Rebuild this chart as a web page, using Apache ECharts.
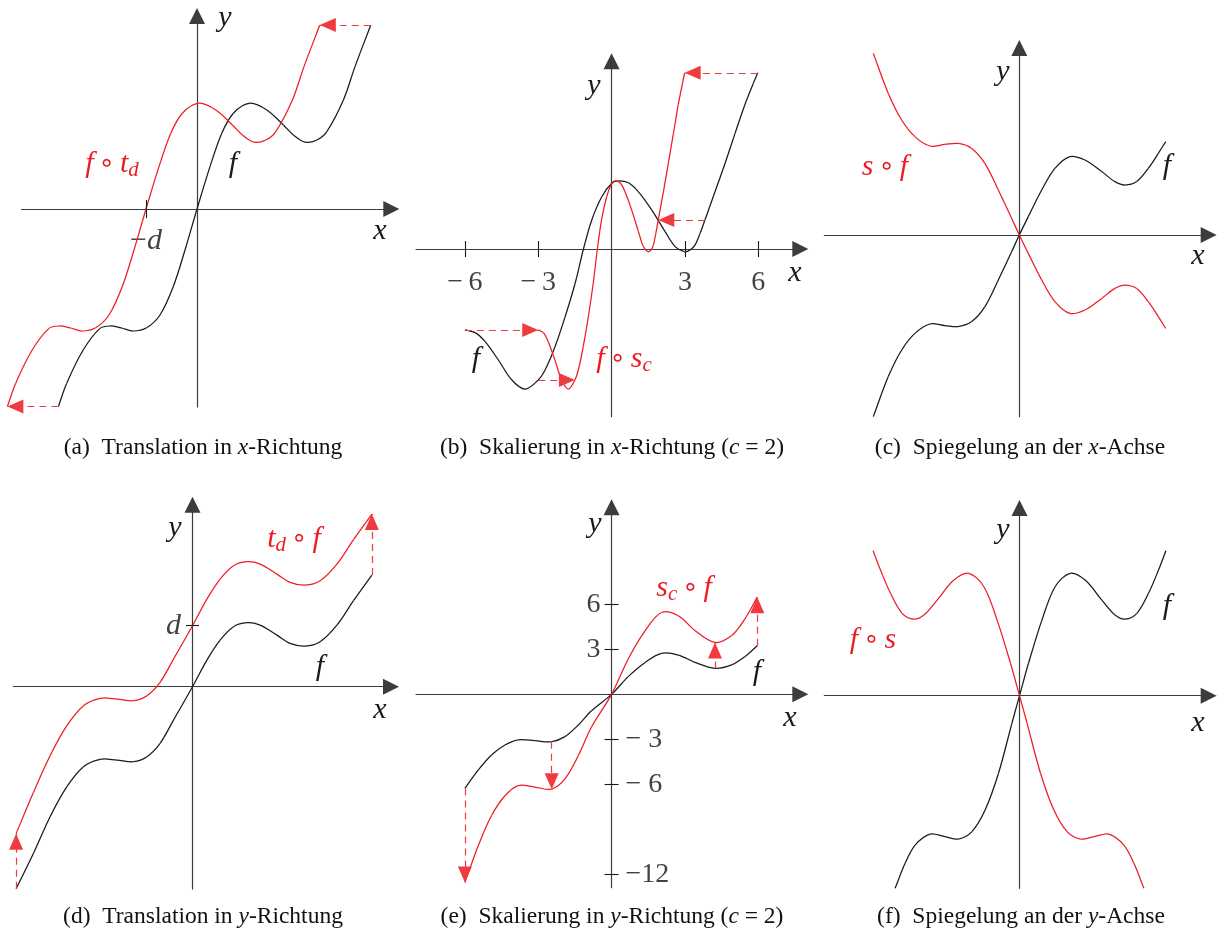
<!DOCTYPE html>
<html>
<head>
<meta charset="utf-8">
<script src="https://cdn.jsdelivr.net/npm/echarts@6/dist/echarts.min.js"></script>
<style>
  html, body { margin: 0; padding: 0; background: #ffffff; }
  #chart { width: 1221px; height: 934px; }
</style>
</head>
<body>
<div id="chart"></div>
<script>
// ---------- sampled values of f and of the transformed curves ----------

// (a) translation in x-direction: f and f∘t_d
const aX      = [-6.93,-6.52,-5.69,-4.85,-4.35,-3.77,-3.19,-2.52,-1.85,-1.19,-0.60,0,0.65,1.24,1.82,2.65,3.49,4.32,4.82,5.40,5.99,6.49,7.32,7.90,8.69];
const aF      = [-9.88,-8.72,-7.05,-5.97,-5.85,-5.95,-6.10,-5.94,-5.30,-3.89,-2.05,0,2.12,3.79,4.79,5.29,4.95,4.20,3.70,3.34,3.45,3.87,5.45,7.12,9.20];
const aShiftX = [-9.48,-9.07,-8.24,-7.40,-6.90,-6.32,-5.74,-5.07,-4.40,-3.74,-3.15,-2.55,-1.90,-1.31,-0.73,0.10,0.94,1.77,2.27,2.85,3.44,3.94,4.77,5.35,6.14];
const aD = 2.55;
const aArrowIdx = [0, 24];

// (b) scaling in x-direction (c = 2): f and f∘s_c
const bX       = [-6.0,-5.58,-5.17,-4.63,-4.08,-3.54,-3.0,-2.72,-2.31,-1.90,-1.49,-1.15,-0.81,-0.40,0.01,0.28,0.69,1.10,1.64,2.19,2.60,2.98,3.21,3.41,3.62,3.82,4.23,4.64,5.05,5.46,5.80,5.98];
const bF       = [-3.31,-3.42,-3.79,-4.54,-5.36,-5.73,-5.36,-4.95,-3.99,-2.77,-1.40,0,1.19,2.14,2.69,2.79,2.71,2.34,1.60,0.71,0.10,-0.11,-0.04,0.16,0.64,1.19,2.34,3.50,4.73,5.92,6.78,7.21];
const bScaledX = [-3.0,-2.79,-2.59,-2.32,-2.04,-1.77,-1.5,-1.36,-1.16,-0.95,-0.75,-0.58,-0.41,-0.2,0.01,0.14,0.35,0.55,0.82,1.1,1.3,1.49,1.61,1.71,1.81,1.91,2.12,2.32,2.53,2.73,2.9,2.99];
const bTicks = [-6, -3, 3, 6];
const bArrowIdx = [0, 6, 25, 31];

// (c) reflection in the x-axis: f and s∘f
const cX      = [-7.30,-6.55,-5.88,-5.22,-4.47,-3.72,-3.05,-2.38,-1.72,-1.05,-0.38,0,0.45,1.12,1.78,2.53,3.28,4.12,4.78,5.28,5.87,6.45,6.95,7.32];
const cF      = [-9.08,-7.08,-5.75,-4.92,-4.45,-4.53,-4.58,-4.33,-3.58,-2.25,-0.83,0,0.92,2.25,3.33,3.92,3.75,3.17,2.67,2.50,2.67,3.33,4.08,4.67];
const cMirror = [9.08,7.08,5.75,4.92,4.45,4.53,4.58,4.33,3.58,2.25,0.83,0,-0.92,-2.25,-3.33,-3.92,-3.75,-3.17,-2.67,-2.50,-2.67,-3.33,-4.08,-4.67];

// (d) translation in y-direction: f and t_d∘f
const dX     = [-8.82,-7.95,-7.12,-6.28,-5.45,-4.62,-3.78,-2.95,-2.28,-1.62,-0.95,0,0.72,1.38,2.05,2.72,3.38,4.22,4.88,5.63,6.38,7.22,8.05,8.97];
const dF     = [-10.1,-8.33,-6.50,-5.0,-4.0,-3.63,-3.67,-3.75,-3.50,-2.83,-1.67,0,1.33,2.33,3.0,3.20,3.08,2.58,2.17,2.03,2.25,3.08,4.30,5.58];
const dShift = [-7.35,-5.28,-3.45,-1.95,-0.95,-0.58,-0.62,-0.70,-0.45,0.22,1.38,3.05,4.38,5.38,6.05,6.25,6.13,5.63,5.22,5.08,5.30,6.13,7.35,8.63];
const dD = 3.05;
const dArrowIdx = [0, 23];

// (e) scaling in y-direction (c = 2): f and s_c∘f
const eX      = [-6.0,-5.45,-4.91,-4.36,-3.82,-3.14,-2.45,-1.91,-1.36,-0.82,0,0.68,1.36,2.04,2.73,3.41,4.23,4.91,5.45,5.96];
const eF      = [-6.27,-5.04,-4.04,-3.38,-3.04,-3.09,-3.16,-2.82,-2.04,-1.09,0,1.18,2.11,2.73,2.62,2.13,1.73,1.96,2.51,3.24];
const eScaled = [-12.54,-10.08,-8.08,-6.76,-6.08,-6.18,-6.32,-5.64,-4.08,-2.18,0,2.36,4.22,5.46,5.24,4.26,3.46,3.92,5.02,6.48];
const eTicks = [6, 3, -3, -6, -12];
const eArrowIdx = [0, 6, 16, 19];

// (f) reflection in the y-axis: f and f∘s
const fX       = [-6.22,-5.72,-5.22,-4.47,-3.72,-3.05,-2.38,-1.72,-1.05,-0.38,0,0.45,1.12,1.78,2.53,3.28,4.12,4.78,5.28,5.87,6.45,6.95,7.32];
const fF       = [-9.63,-8.38,-7.47,-6.92,-7.05,-7.17,-6.80,-5.72,-3.88,-1.38,0,1.62,3.78,5.45,6.12,5.78,4.78,4.03,3.83,4.12,5.12,6.28,7.25];
const fMirrorX = [-7.32,-6.95,-6.45,-5.87,-5.28,-4.78,-4.12,-3.28,-2.53,-1.78,-1.12,-0.45,0,0.38,1.05,1.72,2.38,3.05,3.72,4.47,5.22,5.72,6.22];
const fMirrorY = [7.25,6.28,5.12,4.12,3.83,4.03,4.78,5.78,6.12,5.45,3.78,1.62,0,-1.38,-3.88,-5.72,-6.80,-7.17,-7.05,-6.92,-7.47,-8.38,-9.63];

// ---------- layout and styling ----------
const RED = '#ec1c24';
const DASH_RED = '#ef3b40';
const BLACK = '#1a1a1a';
const AXIS = '#3c3c3c';
const SERIF = 'Liberation Serif';

// axisStart: where the drawn x-axis line begins when it is shorter than the grid
const panels = [
  { left: 5,     top: 16,    width: 386.3, height: 391,   x: [-9.6, 9.715], y: [-9.9, 9.65], axisStart: -8.8 },
  { left: 416,   top: 61.3,  width: 384.3, height: 355.4, x: [-8.0, 7.72],  y: [-6.86, 7.68] },
  { left: 824.3, top: 48,    width: 384.4, height: 368.7, x: [-9.75, 9.47], y: [-9.085, 9.35] },
  { left: 13.3,  top: 504.7, width: 377.7, height: 384.4, x: [-8.96, 9.925], y: [-10.12, 9.1] },
  { left: 416,   top: 507.3, width: 384.3, height: 380.4, x: [-8.0, 7.72],  y: [-12.89, 12.47] },
  { left: 824.3, top: 508,   width: 384.4, height: 380.3, x: [-9.76, 9.46], y: [-9.63, 9.385] }
];
const unitX = (i, px) => px * (panels[i].x[1] - panels[i].x[0]) / panels[i].width;
const unitY = (i, px) => px * (panels[i].y[1] - panels[i].y[0]) / panels[i].height;

const zip = (xs, ys) => xs.map((x, k) => [x, ys[k]]);

const grid = panels.map(p => ({
  left: p.left, top: p.top, width: p.width, height: p.height,
  containLabel: false, outerBoundsMode: 'none'
}));

const axisLine = show => ({
  show: show,
  onZero: true,
  symbol: ['none', 'triangle'],
  symbolSize: [16, 16],
  lineStyle: { color: AXIS, width: 1.2 }
});

const xAxis = panels.map((p, i) => ({
  type: 'value', gridIndex: i, min: p.x[0], max: p.x[1],
  axisLine: axisLine(p.axisStart == null), axisTick: { show: false },
  splitLine: { show: false }, axisLabel: { show: false }
}));

const yAxis = panels.map((p, i) => ({
  type: 'value', gridIndex: i, min: p.y[0], max: p.y[1],
  axisLine: axisLine(true), axisTick: { show: false },
  splitLine: { show: false }, axisLabel: { show: false }
}));

// smooth curve through the sampled points: each data item draws the cubic
// segment to its successor, with tangents from a chord-length Catmull-Rom scheme
function smoothSegments(pts, color) {
  const n = pts.length;
  return function (params, api) {
    const i = params.dataIndex;
    if (i >= n - 1) return null;
    const P = k => api.coord(pts[Math.max(0, Math.min(n - 1, k))]);
    const p0 = P(i - 1), p1 = P(i), p2 = P(i + 1), p3 = P(i + 2);
    const dist = (a, b) => Math.hypot(b[0] - a[0], b[1] - a[1]) || 1e-6;
    const d01 = dist(p0, p1), d12 = dist(p1, p2), d23 = dist(p2, p3);
    const t1 = [(p2[0] - p0[0]) / (d01 + d12), (p2[1] - p0[1]) / (d01 + d12)];
    const t2 = [(p3[0] - p1[0]) / (d12 + d23), (p3[1] - p1[1]) / (d12 + d23)];
    const h = d12 / 3;
    return {
      type: 'bezierCurve', silent: true,
      shape: {
        x1: p1[0], y1: p1[1], x2: p2[0], y2: p2[1],
        cpx1: p1[0] + t1[0] * h, cpy1: p1[1] + t1[1] * h,
        cpx2: p2[0] - t2[0] * h, cpy2: p2[1] - t2[1] * h
      },
      style: { stroke: color, lineWidth: 1.25, fill: 'none' }
    };
  };
}

function curve(i, pts, color) {
  return {
    type: 'custom', coordinateSystem: 'cartesian2d', xAxisIndex: i, yAxisIndex: i,
    data: pts, encode: { x: 0, y: 1 }, renderItem: smoothSegments(pts, color),
    silent: true, animation: false, clip: false, z: color === RED ? 4 : 3
  };
}

// invisible carrier series holding the tick marks and dashed arrows of a panel
function carrier(i, pts, markLine) {
  return {
    type: 'line', xAxisIndex: i, yAxisIndex: i, data: pts,
    symbol: 'none', showSymbol: false, silent: true, animation: false, z: 5,
    lineStyle: { opacity: 0, width: 0 }, markLine: markLine
  };
}

// dashed arrows leading from points of f to the matching points of the transformed curve
function arrows(idx, from, to) {
  return {
    silent: true, animation: false,
    symbol: 'none', symbolSize: 16,
    label: { show: false },
    emphasis: { disabled: true },
    lineStyle: { color: DASH_RED, width: 1.2, type: [7, 5], opacity: 1 },
    data: idx.map(k => [
      { coord: from[k], symbol: 'none' },
      { coord: to[k], symbol: 'triangle', symbolSize: [14, 16], symbolOffset: [0, 8] }
    ])
  };
}

// short tick marks crossing an axis (plus an optional shortened x-axis line)
function ticks(segs, axisSeg) {
  const data = segs.map(([p, q]) => [{ coord: p, symbol: 'none' }, { coord: q, symbol: 'none' }]);
  if (axisSeg) {
    data.push([
      { coord: axisSeg[0], symbol: 'none' },
      { coord: axisSeg[1], symbol: 'triangle', symbolSize: [16, 16],
        lineStyle: { color: AXIS, width: 1.2, type: 'solid' } }
    ]);
  }
  return {
    silent: true, animation: false,
    symbol: 'none', symbolSize: 16,
    label: { show: false },
    emphasis: { disabled: true },
    lineStyle: { color: BLACK, width: 1.1, type: 'solid', opacity: 1 },
    data: data
  };
}

const aBlack = zip(aX, aF), aRed = zip(aShiftX, aF);
const bBlack = zip(bX, bF), bRed = zip(bScaledX, bF);
const cBlack = zip(cX, cF), cRed = zip(cX, cMirror);
const dBlack = zip(dX, dF), dRed = zip(dX, dShift);
const eBlack = zip(eX, eF), eRed = zip(eX, eScaled);
const fBlack = zip(fX, fF), fRed = zip(fMirrorX, fMirrorY);

const series = [
  curve(0, aBlack, BLACK), curve(0, aRed, RED),
  curve(1, bBlack, BLACK), curve(1, bRed, RED),
  curve(2, cBlack, BLACK), curve(2, cRed, RED),
  curve(3, dBlack, BLACK), curve(3, dRed, RED),
  curve(4, eBlack, BLACK), curve(4, eRed, RED),
  curve(5, fBlack, BLACK), curve(5, fRed, RED),
  carrier(0, aBlack, ticks([[[-aD, -unitY(0, 9)], [-aD, unitY(0, 9)]]],
          [[panels[0].axisStart, 0], [panels[0].x[1], 0]])),
  carrier(0, aRed, arrows(aArrowIdx, aBlack, aRed)),
  carrier(1, bBlack, ticks(bTicks.map(v => [[v, -unitY(1, 8)], [v, unitY(1, 8)]]))),
  carrier(1, bRed, arrows(bArrowIdx, bBlack, bRed)),
  carrier(3, dBlack, ticks([[[-unitX(3, 6.5), dD], [unitX(3, 6.5), dD]]])),
  carrier(3, dRed, arrows(dArrowIdx, dBlack, dRed)),
  carrier(4, eBlack, ticks(eTicks.map(v => [[-unitX(4, 7), v], [unitX(4, 7), v]]))),
  carrier(4, eRed, arrows(eArrowIdx, eBlack, eRed))
];

const MATH = 30;
const mathRich = color => ({
  i: { fontFamily: SERIF, fontStyle: 'italic', fontSize: MATH, lineHeight: 34, color: color, fill: color },
  n: { fontFamily: SERIF, fontSize: MATH, lineHeight: 34, color: color, fill: color },
  o: { fontFamily: 'DejaVu Sans', fontSize: 26, lineHeight: 34, color: color, fill: color },
  s: { fontFamily: SERIF, fontStyle: 'italic', fontSize: 21, lineHeight: 21, verticalAlign: 'bottom', color: color, fill: color }
});

const tickFont = { fontFamily: SERIF, fontSize: 28, color: '#111' };

// tick labels of panel (b), placed below their tick values on the x-axis
series.push({
  type: 'scatter', xAxisIndex: 1, yAxisIndex: 1, symbolSize: 0, silent: true, animation: false,
  data: bTicks.map(v => ({
    value: [v, 0],
    label: Object.assign({ show: true, position: 'bottom', distance: 20,
      formatter: v < 0 ? '\u2212\u2009' + Math.abs(v) : String(v) }, tickFont)
  }))
});
// tick labels of panel (e), placed beside their tick values on the y-axis
series.push({
  type: 'scatter', xAxisIndex: 4, yAxisIndex: 4, symbolSize: 0, silent: true, animation: false,
  data: eTicks.map(v => ({
    value: [0, v],
    label: Object.assign({ show: true, position: v > 0 ? 'left' : 'right', distance: v > 0 ? 11 : 14,
      formatter: v > 0 ? String(v) : (v > -10 ? '\u2212 ' + Math.abs(v) : '\u2212' + Math.abs(v)) }, tickFont)
  }))
});
// the -d and d tick labels
series.push({
  type: 'scatter', xAxisIndex: 0, yAxisIndex: 0, symbolSize: 0, silent: true, animation: false,
  data: [{ value: [-aD, 0], label: { show: true, position: 'inside', offset: [0, 32],
    formatter: '{n|\u2212}{i|d}', rich: mathRich('#111') } }]
});
series.push({
  type: 'scatter', xAxisIndex: 3, yAxisIndex: 3, symbolSize: 0, silent: true, animation: false,
  data: [{ value: [0, dD], label: { show: true, position: 'inside', offset: [-19, 0],
    formatter: '{i|d}', rich: mathRich('#111') } }]
});

function mathLabel(x, y, text, color) {
  return {
    type: 'text', x: x, y: y, silent: true, z: 20,
    style: {
      text: text, rich: mathRich(color), fill: color,
      fontFamily: SERIF, fontSize: MATH, align: 'center', verticalAlign: 'middle'
    }
  };
}

const CAP = 23.5;
const capRich = {
  n: { fontFamily: SERIF, fontSize: CAP, fill: '#111' },
  i: { fontFamily: SERIF, fontStyle: 'italic', fontSize: CAP, fill: '#111' }
};
function caption(x, y, text) {
  return {
    type: 'text', x: x, y: y, silent: true,
    style: { text: text, rich: capRich, fill: '#111', fontFamily: SERIF, fontSize: CAP, align: 'center', verticalAlign: 'middle' }
  };
}

const SP = '{n|\u2006}';
const RING = SP + '{o|\u2218}' + SP;
const graphic = [
  // (a)
  mathLabel(225, 18, '{i|y}', BLACK),
  mathLabel(380, 231, '{i|x}', BLACK),
  mathLabel(233, 164, '{i|f}', BLACK),
  mathLabel(112, 164, '{i|f}' + RING + '{i|t}{s|d}', RED),
  // (b)
  mathLabel(594, 86, '{i|y}', BLACK),
  mathLabel(795, 273, '{i|x}', BLACK),
  mathLabel(476, 359, '{i|f}', BLACK),
  mathLabel(624, 359, '{i|f}' + RING + '{i|s}{s|c}', RED),
  // (c)
  mathLabel(1003, 72, '{i|y}', BLACK),
  mathLabel(1198, 256, '{i|x}', BLACK),
  mathLabel(1167, 166, '{i|f}', BLACK),
  mathLabel(885, 167, '{i|s}' + RING + '{i|f}', RED),
  // (d)
  mathLabel(175, 528, '{i|y}', BLACK),
  mathLabel(380, 710, '{i|x}', BLACK),
  mathLabel(320, 667, '{i|f}', BLACK),
  mathLabel(294, 539, '{i|t}{s|d}' + RING + '{i|f}', RED),
  // (e)
  mathLabel(595, 524, '{i|y}', BLACK),
  mathLabel(790, 718, '{i|x}', BLACK),
  mathLabel(757, 672, '{i|f}', BLACK),
  mathLabel(684, 588, '{i|s}{s|c}' + RING + '{i|f}', RED),
  // (f)
  mathLabel(1003, 530, '{i|y}', BLACK),
  mathLabel(1198, 723, '{i|x}', BLACK),
  mathLabel(1167, 606, '{i|f}', BLACK),
  mathLabel(873, 640, '{i|f}' + RING + '{i|s}', RED),
  // captions
  caption(203, 448, '{n|(a)  Translation in }{i|x}{n|-Richtung}'),
  caption(612, 448, '{n|(b)  Skalierung in }{i|x}{n|-Richtung (}{i|c}{n| = 2)}'),
  caption(1020, 448, '{n|(c)  Spiegelung an der }{i|x}{n|-Achse}'),
  caption(203, 917, '{n|(d)  Translation in }{i|y}{n|-Richtung}'),
  caption(612, 917, '{n|(e)  Skalierung in }{i|y}{n|-Richtung (}{i|c}{n| = 2)}'),
  caption(1021, 917, '{n|(f)  Spiegelung an der }{i|y}{n|-Achse}')
];

const chart = echarts.init(document.getElementById('chart'), null, { renderer: 'canvas' });
chart.setOption({
  backgroundColor: '#ffffff',
  animation: false,
  grid: grid,
  xAxis: xAxis,
  yAxis: yAxis,
  series: series,
  graphic: graphic
});
</script>
</body>
</html>
